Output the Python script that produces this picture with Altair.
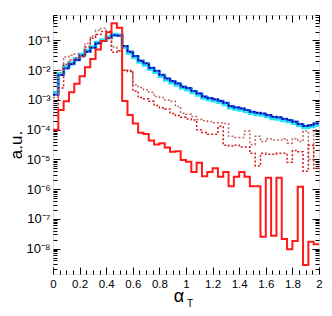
import altair as alt
import pandas as pd

# bin edges (0.04 wide, 0..2)
edges = [0.00, 0.04, 0.08, 0.12, 0.16, 0.20, 0.24, 0.28, 0.32, 0.36,
         0.40, 0.44, 0.48, 0.52, 0.56, 0.60, 0.64, 0.68, 0.72, 0.76,
         0.80, 0.84, 0.88, 0.92, 0.96, 1.00, 1.04, 1.08, 1.12, 1.16,
         1.20, 1.24, 1.28, 1.32, 1.36, 1.40, 1.44, 1.48, 1.52, 1.56,
         1.60, 1.64, 1.68, 1.72, 1.76, 1.80, 1.84, 1.88, 1.92, 1.96, 2.00]

red_solid = [1.0e-4, 4.6e-4, 9e-4, 1.8e-3, 3.5e-3, 6.3e-3, 1.26e-2, 2.4e-2, 5e-2, 9.6e-2,
             0.19, 0.38, 0.27, 9.3e-4, 3.1e-4, 1.6e-4, 7.9e-5, 7.1e-5, 4.3e-5, 3.2e-5,
             3.5e-5, 2.5e-5, 1.8e-5, 1.9e-5, 9.5e-6, 8.3e-6, 3.8e-6, 7.7e-6, 2.7e-6, 3.8e-6,
             5e-6, 2.6e-6, 3.8e-6, 1.26e-6, 2.6e-6, 3.8e-6, 2.6e-6, 1.26e-6, 1.26e-6, 2.5e-8,
             2.4e-6, 2.7e-8, 2.4e-6, 2.1e-8, 9.6e-9, 1.8e-8, 1.2e-6, 2.8e-9, 1.7e-8, 1.4e-8]

dotted_upper = [1.2e-3, 1.0e-2, 2.8e-2, 3.2e-2, 3.5e-2, 3.0e-2, 8e-2, 0.14, 0.22, 0.26,
                0.12, 6e-2, 4.5e-2, 1.0e-2, 1.0e-2, 3.2e-3, 2.6e-3, 2.2e-3, 1.8e-3, 1.3e-3,
                1.2e-3, 1.0e-3, 9e-4, 6e-4, 3.6e-4, 3.3e-4, 2.8e-4, 2.2e-4, 2.0e-4, 1.9e-4,
                1.7e-4, 1.7e-4, 1.6e-4, 6e-5, 5.5e-5, 5.5e-5, 9e-5, 3.2e-5, 6e-5, 4e-5,
                5e-5, 4.5e-5, 4.5e-5, 5e-5, 3.5e-5, 5e-5, 4e-5, 9e-5, 1e-5, 1e-4]

dotted_lower = [3e-4, 2.5e-3, 1.6e-2, 2.2e-2, 2.6e-2, 2.8e-2, 6e-2, 0.12, 0.16, 0.2,
                0.2, 4e-2, 4.5e-2, 1.0e-2, 9e-3, 2.0e-3, 1.2e-3, 1.1e-3, 9e-4, 6.5e-4,
                5.5e-4, 5e-4, 3.5e-4, 3.0e-4, 2.6e-4, 2.3e-4, 2.1e-4, 1.0e-4, 8e-5, 7e-5,
                7e-5, 1.3e-4, 3e-5, 2.8e-5, 3e-5, 2.6e-5, 2.6e-5, 1.6e-5, 6e-6, 1.6e-5,
                1.5e-5, 1.5e-5, 1.6e-5, 1.6e-5, 8e-6, 2e-5, 1.8e-5, 4e-6, 3e-5, 5e-6]

blue = [1.5e-3, 6.9e-3, 1.16e-2, 1.6e-2, 2.2e-2, 3.1e-2, 4.2e-2, 5.7e-2, 8.0e-2, 9.6e-2,
        0.12, 0.15, 0.145, 6.5e-2, 4.2e-2, 3.0e-2, 2.1e-2, 1.7e-2, 1.2e-2, 9.6e-3,
        7e-3, 5.3e-3, 4.3e-3, 3.6e-3, 2.8e-3, 2.5e-3, 2.0e-3, 1.66e-3, 1.3e-3, 1.15e-3,
        1.05e-3, 9.3e-4, 8.0e-4, 6.2e-4, 5.6e-4, 5.2e-4, 4.6e-4, 4.0e-4, 3.7e-4, 3.5e-4,
        3.1e-4, 2.7e-4, 2.6e-4, 2.3e-4, 2.1e-4, 1.86e-4, 1.55e-4, 1.33e-4, 1.42e-4, 1.62e-4]

cyan = [1.7e-3, 7.6e-3, 1.3e-2, 1.75e-2, 2.4e-2, 3.4e-2, 4.6e-2, 6.2e-2, 8.6e-2, 0.104,
        0.13, 0.16, 0.15, 5.9e-2, 3.8e-2, 2.7e-2, 1.9e-2, 1.5e-2, 1.07e-2, 8.6e-3,
        6.3e-3, 4.7e-3, 3.8e-3, 3.2e-3, 2.5e-3, 2.2e-3, 1.78e-3, 1.48e-3, 1.16e-3, 1.03e-3,
        9.4e-4, 8.3e-4, 7.1e-4, 5.5e-4, 5.0e-4, 4.6e-4, 4.1e-4, 3.6e-4, 3.3e-4, 3.1e-4,
        2.75e-4, 2.4e-4, 2.3e-4, 2.05e-4, 1.87e-4, 1.66e-4, 1.38e-4, 1.18e-4, 1.27e-4, 1.45e-4]

x_major = [0, 0.2, 0.4, 0.6, 0.8, 1.0, 1.2, 1.4, 1.6, 1.8, 2.0]
x_minor = [0.05, 0.1, 0.15, 0.25, 0.3, 0.35, 0.45, 0.5, 0.55, 0.65, 0.7, 0.75,
           0.85, 0.9, 0.95, 1.05, 1.1, 1.15, 1.25, 1.3, 1.35, 1.45, 1.5, 1.55,
           1.65, 1.7, 1.75, 1.85, 1.9, 1.95]
y_major = [1e-8, 1e-7, 1e-6, 1e-5, 1e-4, 1e-3, 1e-2, 1e-1]
y_minor = [k * 10.0 ** e for e in range(-9, 0) for k in range(2, 10)
           if 1.4e-9 < k * 10.0 ** e < 0.72]
y_labels = {-1: "10⁻¹", -2: "10⁻²", -3: "10⁻³", -4: "10⁻⁴",
            -5: "10⁻⁵", -6: "10⁻⁶", -7: "10⁻⁷", -8: "10⁻⁸"}

rows = []
series = {"cyan": cyan, "blue": blue, "navy": blue, "d1": dotted_upper,
          "d2": dotted_lower, "red": red_solid}
for name, vals in series.items():
    for i, v in enumerate(vals):
        rows.append({"s": name, "o": 2 * i, "x": edges[i], "y": v})
        rows.append({"s": name, "o": 2 * i + 1, "x": edges[i + 1], "y": v})
df = pd.DataFrame(rows)

FONT = "Liberation Sans"
xs = alt.Scale(domain=[0, 2], nice=False, zero=False)
ys = alt.Scale(type="log", domain=[1.4e-9, 0.72], nice=False)

e = "round(log(datum.value)/LN10)"
ylab = " : ".join(f"{e} == {k} ? '{v}'" for k, v in y_labels.items()) + " : ''"

common = dict(grid=False, domain=False, tickColor="black", tickWidth=1,
              labelOverlap=False, labelFlush=False, labelBound=False, title=None)

ax_left = alt.Axis(orient="left", values=y_major, tickSize=7, offset=-7,
                   labelExpr=ylab, labelFont=FONT, labelFontSize=13, labelColor="black",
                   labelPadding=3, **{k: v for k, v in common.items() if k != "title"},
                   title="a.u.", titleFont=FONT, titleFontSize=17, titleFontWeight="normal",
                   titleColor="black", titleX=-44, titleY=129.5, titleAngle=270,
                   titleAlign="center", titleBaseline="middle")
ax_left_minor = alt.Axis(orient="left", values=y_minor, tickSize=4, offset=-4,
                         labels=False, **common)
ax_right = alt.Axis(orient="right", values=y_major, tickSize=7, offset=-7,
                    labels=False, **common)
ax_right_minor = alt.Axis(orient="right", values=y_minor, tickSize=4, offset=-4,
                          labels=False, **common)
ax_bottom = alt.Axis(orient="bottom", values=x_major, tickSize=7, offset=-7,
                     labelExpr="format(datum.value, '~g')", labelFont=FONT,
                     labelFontSize=11.5, labelColor="black", labelPadding=4, **common)
ax_bottom_minor = alt.Axis(orient="bottom", values=x_minor, tickSize=4, offset=-4,
                           labels=False, **common)
ax_top = alt.Axis(orient="top", values=x_major, tickSize=7, offset=-7,
                  labels=False, **common)
ax_top_minor = alt.Axis(orient="top", values=x_minor, tickSize=4, offset=-4,
                        labels=False, **common)


def layer(name, xaxis, yaxis, **mk):
    return (alt.Chart(df).transform_filter(alt.datum.s == name)
            .mark_line(clip=True, **mk)
            .encode(x=alt.X("x:Q", scale=xs, axis=xaxis),
                    y=alt.Y("y:Q", scale=ys, axis=yaxis),
                    order=alt.Order("o:Q")))


l_cyan = layer("cyan", ax_bottom, ax_left, color="#22e6f0", strokeWidth=3.5)
l_blue = layer("blue", ax_bottom_minor, ax_left_minor, color="#2a5cff", strokeWidth=2.2)
l_navy = layer("navy", ax_top, ax_right, color="#00007a", strokeWidth=1.5,
               strokeDash=[2, 2])
l_d1 = layer("d1", ax_top_minor, ax_right_minor, color="#c06a6a", strokeWidth=1.5,
             strokeDash=[2, 2])
l_d2 = layer("d2", None, None, color="#d01818", strokeWidth=1.5, strokeDash=[2, 2])
l_red = layer("red", None, None, color="#ff1a1a", strokeWidth=2)

t_alpha = alt.Chart(pd.DataFrame({"t": ["α"]})).mark_text(
    font=FONT, fontSize=18, color="black", align="center", baseline="alphabetic"
).encode(text="t:N", x=alt.value(126), y=alt.value(287))
t_sub = alt.Chart(pd.DataFrame({"t": ["T"]})).mark_text(
    font=FONT, fontSize=10, color="black", align="left", baseline="alphabetic"
).encode(text="t:N", x=alt.value(134), y=alt.value(292))

chart = (alt.layer(l_cyan, l_blue, l_navy, l_d1, l_d2, l_red, t_alpha, t_sub)
         .resolve_axis(x="independent", y="independent")
         .properties(width=266, height=259,
                     padding={"left": 45, "top": 7, "right": 5, "bottom": 34},
                     autosize=alt.AutoSizeParams(type="none"))
         .configure_view(stroke="black", strokeWidth=1.2)
         .configure(background="white"))

chart.save("out.html", embed_options={"renderer": "svg", "actions": False})
